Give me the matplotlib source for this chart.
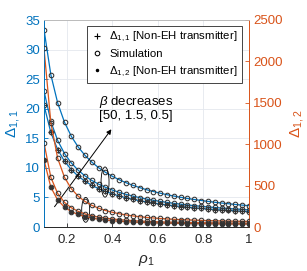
import matplotlib
matplotlib.use("Agg")
import matplotlib.pyplot as plt
from matplotlib.patches import Ellipse
from matplotlib.lines import Line2D

plt.rcParams['font.family'] = ['Liberation Sans', 'DejaVu Sans']
plt.rcParams['mathtext.fontset'] = 'custom'
plt.rcParams['mathtext.rm'] = 'Liberation Sans'
plt.rcParams['mathtext.it'] = 'Liberation Sans:italic'

rho = [0.10, 0.13, 0.16, 0.19, 0.22, 0.25, 0.28, 0.31, 0.34, 0.37, 0.40,
       0.43, 0.46, 0.49, 0.52, 0.55, 0.58, 0.61, 0.64, 0.67, 0.70, 0.73,
       0.76, 0.79, 0.82, 0.85, 0.88, 0.91, 0.94, 0.97, 1.00]

# Delta_{1,1} (left axis) for beta = 0.5, 1.5, 50
d11_b05 = [33.39, 25.75, 20.98, 17.71, 15.33, 13.53, 12.11, 10.97, 10.02, 9.24, 8.57,
           7.99, 7.49, 7.05, 6.66, 6.31, 6.00, 5.72, 5.46, 5.23, 5.02, 4.82,
           4.65, 4.48, 4.33, 4.18, 4.05, 3.93, 3.81, 3.70, 3.60]
d11_b15 = [23.00, 17.85, 14.63, 12.42, 10.82, 9.60, 8.64, 7.87, 7.24, 6.71, 6.25,
           5.86, 5.52, 5.23, 4.96, 4.73, 4.52, 4.33, 4.16, 4.00, 3.86, 3.73,
           3.61, 3.50, 3.39, 3.30, 3.21, 3.12, 3.05, 2.97, 2.90]
d11_b50 = [20.60, 15.98, 13.10, 11.13, 9.69, 8.60, 7.74, 7.05, 6.48, 6.01, 5.60,
           5.25, 4.95, 4.68, 4.45, 4.24, 4.05, 3.88, 3.73, 3.59, 3.46, 3.34,
           3.23, 3.13, 3.04, 2.95, 2.87, 2.80, 2.73, 2.66, 2.60]

# Delta_{1,2} (right axis) for beta = 0.5, 1.5, 50
d12_b05 = [2156, 1260, 830, 600, 462, 372, 308, 262, 227, 199, 178,
           160, 146, 134, 124, 116, 109, 103, 98, 93, 89, 86,
           83, 80, 77, 75, 73, 71, 70, 68, 67]
d12_b15 = [1016, 600, 405, 297, 232, 189, 158, 136, 120, 107, 97,
           89, 82, 77, 72, 68, 65, 62, 60, 58, 56, 54,
           53, 52, 51, 50, 49, 48, 47, 46, 46]
d12_b50 = [812, 480, 326, 239, 186, 151, 126, 108, 95, 84, 76,
           69, 64, 60, 56, 53, 50, 48, 46, 45, 43, 42,
           41, 40, 39, 38, 37, 36, 36, 35, 35]

BLUE = '#0072BD'
ORANGE = '#D95319'
MK = '#333333'

fig = plt.figure(figsize=(3.07, 2.71), dpi=100)
ax1 = fig.add_axes([44/307, 1-227/271, (249-44)/307, (227-20)/271])
ax2 = ax1.twinx()

for ys in (d11_b05, d11_b15, d11_b50):
    ax1.plot(rho, ys, color=BLUE, lw=0.9, zorder=2)
    ax1.plot(rho, ys, ls='none', marker='o', ms=3.3, mfc='none', mec=MK, mew=0.75, zorder=3)
ax1.plot(rho, d11_b50, ls='none', marker='+', ms=4, mec=MK, mew=0.8, zorder=3)

for ys in (d12_b05, d12_b15, d12_b50):
    ax2.plot(rho, ys, color=ORANGE, lw=0.9, zorder=2)
    ax2.plot(rho, ys, ls='none', marker='o', ms=3.3, mfc='none', mec=MK, mew=0.75, zorder=3)
ax2.plot(rho, d12_b50, ls='none', marker='.', ms=4, mec=MK, mfc=MK, zorder=3)

ax1.set_xlim(0.1, 1.0)
ax1.set_ylim(0, 35)
ax2.set_ylim(0, 2500)
ax1.set_xticks([0.2, 0.4, 0.6, 0.8, 1.0])
ax1.set_xticklabels(['0.2', '0.4', '0.6', '0.8', '1'])
ax1.set_yticks(range(0, 36, 5))
ax2.set_yticks(range(0, 2501, 500))

ax1.grid(True, color='#e4e8ee', lw=0.6)
ax1.set_axisbelow(True)

ax1.tick_params(axis='both', direction='in', length=3, width=0.6, labelsize=9.5, pad=3)
ax1.tick_params(axis='x', colors='#262626', pad=5)
ax1.tick_params(axis='y', colors=BLUE)
ax2.tick_params(axis='y', direction='in', length=3, width=0.6, labelsize=9.5, colors=ORANGE, pad=3)

for a in (ax1, ax2):
    a.spines['left'].set_color(BLUE)
    a.spines['right'].set_color(ORANGE)
    a.spines['top'].set_color('#bbbbbb')
    a.spines['bottom'].set_color('#262626')
    for s in a.spines.values():
        s.set_linewidth(0.6)

ax1.set_xlabel(r'$\rho_1$', fontsize=11, color='#262626', labelpad=5)
ax1.set_ylabel(r'$\Delta_{1,1}$', fontsize=11, color=BLUE, labelpad=2)
ax2.set_ylabel(r'$\Delta_{1,2}$', fontsize=11, color=ORANGE, labelpad=4)

# ellipses and annotation
ax1.add_patch(Ellipse((0.368, 7.6), 0.035, 5.1, fill=False, ec='black', lw=0.6, zorder=4))
ax1.add_patch(Ellipse((0.283, 2.9), 0.035, 4.2, fill=False, ec='black', lw=0.6, zorder=4))
ax1.annotate('', xy=(0.403, 16.9), xytext=(0.139, 3.05),
             arrowprops=dict(arrowstyle='-|>', color='black', lw=0.7, mutation_scale=7),
             zorder=5)
ax1.text(0.34, 21.2, r'$\beta$ decreases', fontsize=9.5, va='center', ha='left')
ax1.text(0.34, 18.8, '[50, 1.5, 0.5]', fontsize=9.5, va='center', ha='left')

handles = [
    Line2D([], [], ls='none', marker='+', ms=4, mec='black', mew=0.8),
    Line2D([], [], ls='none', marker='o', ms=3.3, mfc='none', mec='black', mew=0.75),
    Line2D([], [], ls='none', marker='.', ms=3, mec='black', mfc='black'),
]
labels = [r'$\Delta_{1,1}$ [Non-EH transmitter]', 'Simulation',
          r'$\Delta_{1,2}$ [Non-EH transmitter]']
leg = ax2.legend(handles, labels, loc='upper left', bbox_to_anchor=(87/307, 1-26/271),
                 bbox_transform=fig.transFigure, fontsize=8.2, frameon=True,
                 fancybox=False, edgecolor='#262626', framealpha=1,
                 handlelength=1.0, handletextpad=0.6, borderpad=0.35,
                 labelspacing=0.45, borderaxespad=0)
leg.get_frame().set_linewidth(0.6)

fig.savefig('out.png', dpi=100)
